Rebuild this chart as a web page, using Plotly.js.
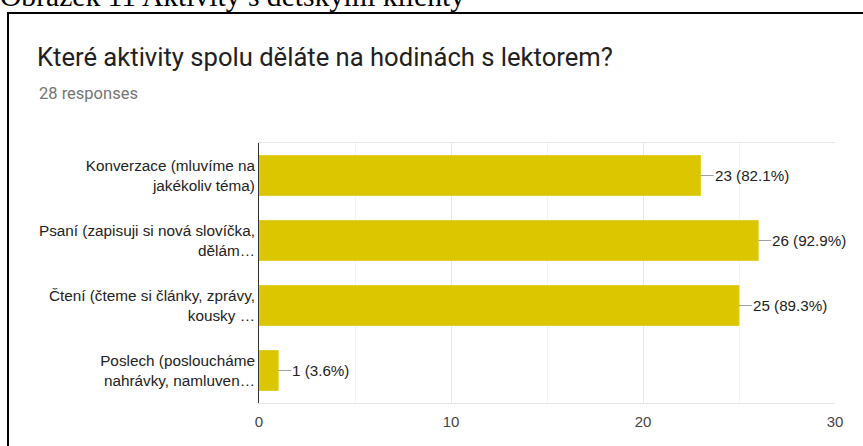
<!DOCTYPE html>
<html>
<head>
<meta charset="utf-8">
<script src="https://cdn.plot.ly/plotly-3.0.1.min.js"></script>
<style>
  html, body { margin: 0; padding: 0; background: #fff; overflow: hidden; }
  #wrap { position: relative; width: 863px; height: 446px; }
  #chart { position: absolute; left: 0; top: 0; width: 863px; height: 446px; }
  #caption { position: absolute; left: 0; top: -18px; font-family: "Liberation Serif", "Times New Roman", serif; font-size: 29.6px; line-height: 29.6px; color: #000; white-space: nowrap; z-index: 2; }
  #frame { position: absolute; left: 7px; top: 12px; width: 900px; height: 500px; border: 2px solid #000; box-sizing: border-box; pointer-events: none; z-index: 2; }
</style>
</head>
<body>
<div id="wrap">
  <div id="chart"></div>
  <div id="caption">Obrázek 11 Aktivity s dětskými klienty</div>
  <div id="frame"></div>
</div>
<script>
const categories = [
  "Konverzace (mluvíme na<br>jakékoliv téma)",
  "Psaní (zapisuji si nová slovíčka,<br>dělám…",
  "Čtení (čteme si články, zprávy,<br>kousky …",
  "Poslech (posloucháme<br>nahrávky, namluven…"
];
const counts = [23, 26, 25, 1];
const percents = ["82.1%", "92.9%", "89.3%", "3.6%"];
const xTicks = [0, 10, 20, 30];
const chartTitle = "Které aktivity spolu děláte na hodinách s lektorem?";
const subtitle = "28 responses";

const trace = {
  type: "bar",
  orientation: "h",
  y: categories,
  x: counts,
  marker: { color: "#dcc600", line: { color: "#e3cf2a", width: 1 } },
  hoverinfo: "none"
};

const labelAnns = counts.map((v, i) => ({
  x: v, y: categories[i], xref: "x", yref: "y",
  text: v + " (" + percents[i] + ")",
  showarrow: true, arrowhead: 0, arrowwidth: 1.2, arrowcolor: "#a0a0a0",
  ax: 13, ay: 0, xanchor: "left", standoff: 0, borderpad: 0,
  font: { family: "Liberation Sans, Arial, sans-serif", size: 15.2, color: "#222" }
}));

const layout = {
  width: 863, height: 446,
  margin: { l: 259, r: 28, t: 143, b: 43 },
  paper_bgcolor: "#fff", plot_bgcolor: "#fff",
  showlegend: false,
  bargap: 0.385,
  title: {
    text: chartTitle,
    xref: "container", yref: "container",
    x: 37 / 863, xanchor: "left",
    y: 1 - 57 / 446, yanchor: "middle",
    font: { family: "Roboto, sans-serif", size: 25.6, color: "#212121" }
  },
  xaxis: {
    range: [0, 30],
    tickvals: xTicks,
    ticktext: xTicks.map(String),
    showgrid: true, gridcolor: "#e8e8e8", gridwidth: 1,
    minor: { dtick: 5, showgrid: true, gridcolor: "#f2f2f2", gridwidth: 1 },
    zeroline: false,
    showline: true, linecolor: "#e6e6e6", linewidth: 1, mirror: true,
    ticks: "", ticklabelstandoff: 5,
    tickfont: { family: "Liberation Sans, Arial, sans-serif", size: 15, color: "#444" },
    fixedrange: true
  },
  yaxis: {
    autorange: "reversed",
    showgrid: false, zeroline: false,
    showline: true, linecolor: "#333", linewidth: 1,
    ticks: "", ticklabelstandoff: 0,
    tickfont: { family: "Liberation Sans, Arial, sans-serif", size: 15.3, color: "#222" },
    fixedrange: true
  },
  annotations: [
    {
      text: subtitle, xref: "paper", yref: "paper",
      x: (37 - 259) / 576, y: (403 - 93) / 260,
      xanchor: "left", yanchor: "middle", showarrow: false,
      font: { family: "Roboto, sans-serif", size: 16.5, color: "#757575" }
    }
  ].concat(labelAnns)
};

Plotly.newPlot("chart", [trace], layout, { displayModeBar: false, staticPlot: true });
</script>
</body>
</html>
